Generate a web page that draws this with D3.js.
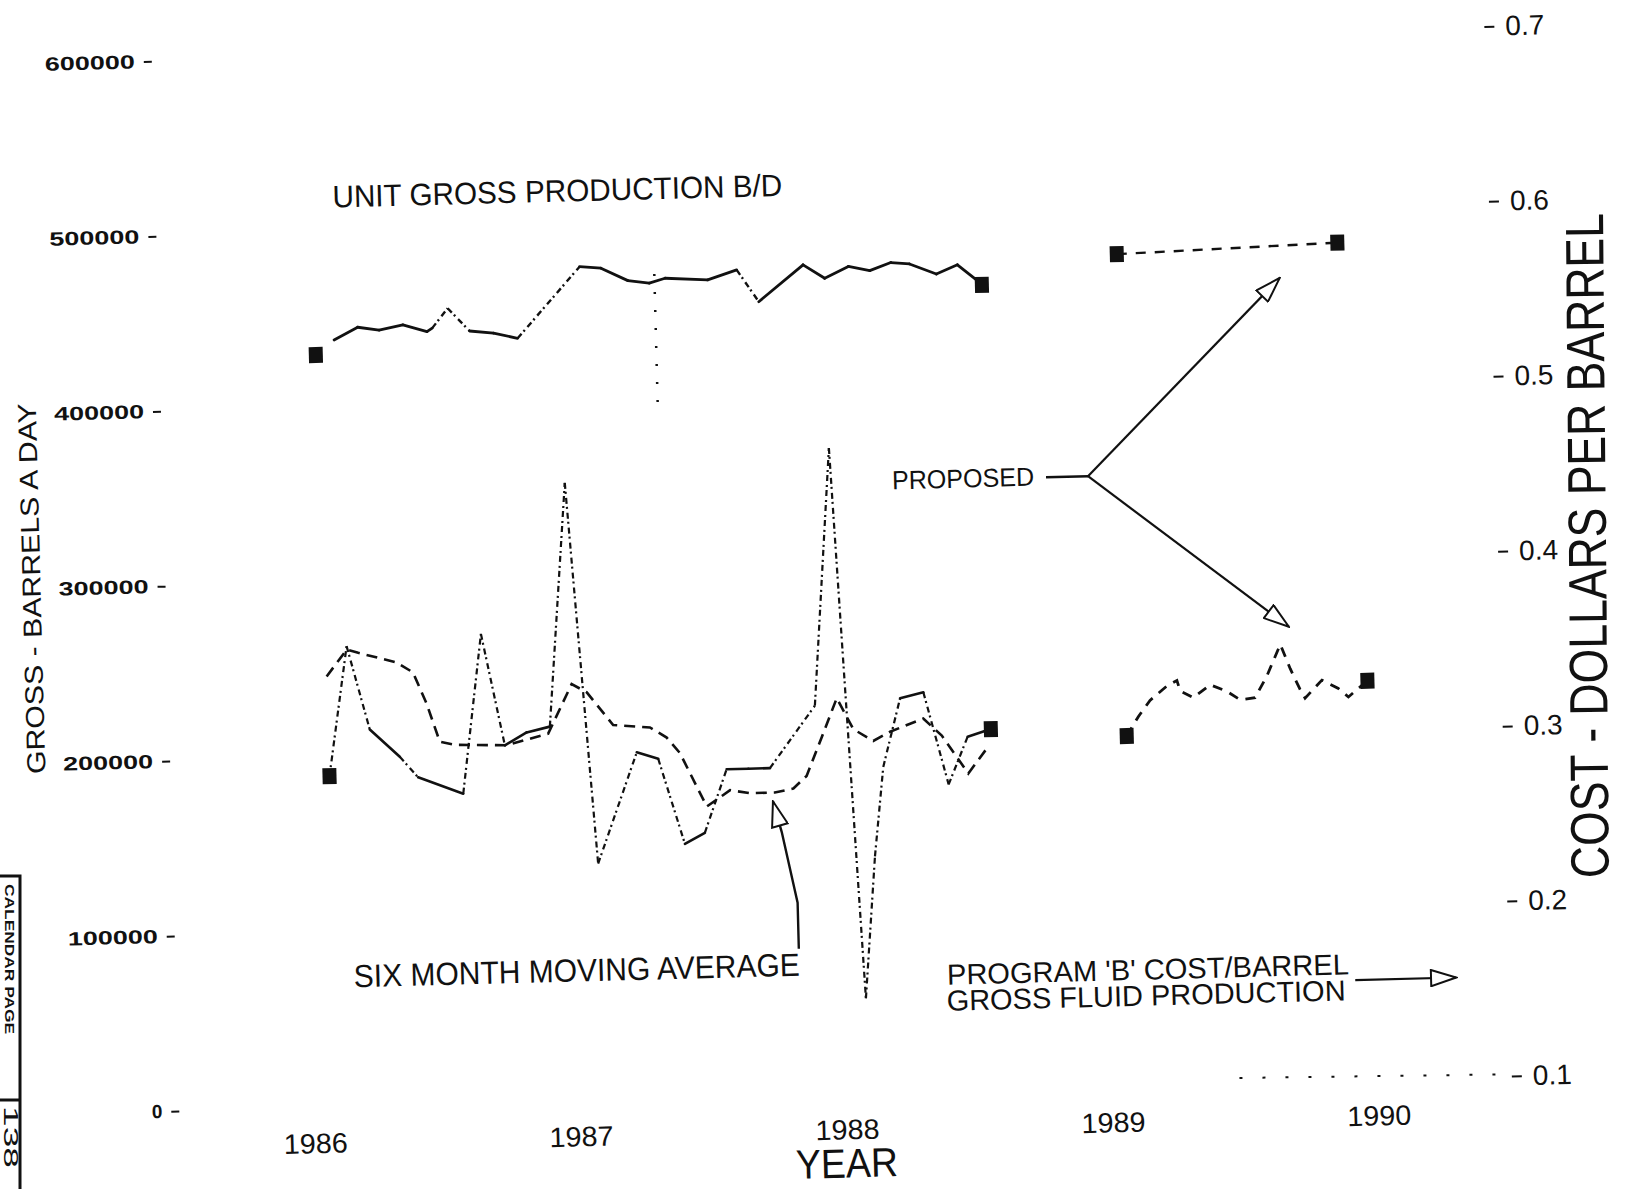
<!DOCTYPE html>
<html>
<head>
<meta charset="utf-8">
<script src="https://cdn.jsdelivr.net/npm/d3@7"></script>
<style>
  body { margin: 0; background: #fff; }
  svg text { font-family: "Liberation Sans", Arial, sans-serif; fill: #111; }
</style>
</head>
<body>
<svg id="chart" width="1640" height="1189"></svg>
<script>
// ---- tick values
var yearTicks  = [1986, 1987, 1988, 1989, 1990];
var grossTicks = [0, 100000, 200000, 300000, 400000, 500000, 600000];
var costTicks  = [0.1, 0.2, 0.3, 0.4, 0.5, 0.6, 0.7];

// ---- unit gross production, barrels a day (left axis)
var unitGrossYears  = [1986.15, 1986.24, 1986.32, 1986.41, 1986.50, 1986.52, 1986.58, 1986.66, 1986.75, 1986.84,
                       1987.08, 1987.16, 1987.26, 1987.34, 1987.40, 1987.56, 1987.67, 1987.75, 1987.92, 1988.00,
                       1988.09, 1988.17, 1988.25, 1988.32, 1988.42, 1988.50, 1988.57, 1988.59];
var unitGrossValues = [438100, 445000, 443100, 445700, 441500, 443400, 454500, 441200, 439600, 436300,
                       476300, 475100, 467600, 465900, 468400, 466800, 472100, 453600, 474000, 466000,
                       472400, 469700, 474000, 472900, 466800, 471700, 462800, 459900];
var proposedGrossYears  = [1989.10, 1989.93];
var proposedGrossValues = [475400, 478700];
var grossMarkerYears  = [1986.08, 1988.59, 1989.10, 1989.93];
var grossMarkerValues = [429800, 459900, 475400, 478700];

// ---- program 'B' cost per barrel, dollars (right axis)
var costYears  = [1986.09, 1986.167, 1986.246, 1986.356, 1986.423, 1986.591, 1986.673, 1986.752, 1986.835, 1986.923,
                  1987.003, 1987.091, 1987.247, 1987.327, 1987.419, 1987.495, 1987.583, 1987.665, 1987.746, 1987.921,
                  1987.999, 1988.084, 1988.132, 1988.172, 1988.242, 1988.330, 1988.416, 1988.492, 1988.58];
var costValues = [0.289, 0.363, 0.315, 0.299, 0.287, 0.277, 0.368, 0.304, 0.311, 0.314,
                  0.453, 0.235, 0.298, 0.294, 0.245, 0.251, 0.287, 0.287, 0.287, 0.322,
                  0.469, 0.154, 0.235, 0.286, 0.325, 0.328, 0.275, 0.302, 0.306];
// six month moving average
var avgYears  = [1986.089, 1986.167, 1986.210, 1986.353, 1986.414, 1986.462, 1986.508, 1986.564, 1986.759, 1986.916,
                 1987.009, 1987.065, 1987.161, 1987.299, 1987.361, 1987.409, 1987.505, 1987.594, 1987.668, 1987.762,
                 1987.832, 1987.883, 1987.944, 1988.004, 1988.063, 1988.137, 1988.201, 1988.327, 1988.395, 1988.491,
                 1988.563];
var avgValues = [0.346, 0.361, 0.359, 0.353, 0.347, 0.329, 0.307, 0.305, 0.304, 0.310,
                 0.338, 0.333, 0.314, 0.312, 0.306, 0.297, 0.266, 0.275, 0.273, 0.273,
                 0.275, 0.282, 0.304, 0.326, 0.308, 0.301, 0.306, 0.313, 0.303, 0.281,
                 0.295];
var proposedCostYears  = [1989.09, 1989.136, 1989.181, 1989.246, 1989.284, 1989.295, 1989.344, 1989.409, 1989.471, 1989.520,
                          1989.576, 1989.622, 1989.676, 1989.711, 1989.746, 1989.764, 1989.829, 1989.890, 1989.927, 1990.00];
var proposedCostValues = [0.300, 0.311, 0.320, 0.328, 0.331, 0.325, 0.321, 0.328, 0.324, 0.319,
                          0.320, 0.332, 0.350, 0.336, 0.324, 0.319, 0.329, 0.324, 0.319, 0.328];
var costMarkerYears  = [1986.09, 1988.58, 1989.09, 1990.00];
var costMarkerValues = [0.289, 0.306, 0.300, 0.328];

var svg = d3.select("#chart");

// open arrow head used by the call-outs
svg.append("defs").append("marker")
    .attr("id", "openHead")
    .attr("viewBox", "0 0 30 20")
    .attr("refX", 29).attr("refY", 10)
    .attr("markerWidth", 28).attr("markerHeight", 18)
    .attr("markerUnits", "userSpaceOnUse")
    .attr("orient", "auto")
  .append("path")
    .attr("d", "M1,1 L29,10 L1,19 Z")
    .attr("fill", "white")
    .attr("stroke", "#111")
    .attr("stroke-width", 2.2);

// the scanned page sits a little crooked
var page = svg.append("g").attr("transform", "rotate(-1.5,820,595)");

var x = d3.scaleLinear().domain([1986, 1990]).range([301, 1365]);
var yGross = d3.scaleLinear().domain([0, 600000]).range([1094, 44]);
var yCost = d3.scaleLinear().domain([0.1, 0.7]).range([1094, 44]);

//////////////////////////AXES//////////////////////////
var leftAxis = page.append("g")
    .attr("transform", "translate(166,0)")
    .call(d3.axisLeft(yGross).tickValues(grossTicks).tickSize(8).tickPadding(9).tickFormat(d3.format("d")));
leftAxis.select(".domain").remove();
leftAxis.selectAll("line").attr("stroke", "#111").attr("stroke-width", 2);
leftAxis.selectAll("text")
    .attr("font-size", 19)
    .attr("font-weight", "bold")
    .attr("font-family", "Liberation Sans, Arial, sans-serif")
    .each(function(d) {
        if (d !== 0) d3.select(this).attr("textLength", 90).attr("lengthAdjust", "spacingAndGlyphs");
    });

var rightAxis = page.append("g")
    .attr("transform", "translate(1499,0)")
    .call(d3.axisRight(yCost).tickValues(costTicks).tickSize(10).tickPadding(11).tickFormat(d3.format(".1f")));
rightAxis.select(".domain").remove();
rightAxis.selectAll("line").attr("stroke", "#111").attr("stroke-width", 2);
rightAxis.selectAll("text")
    .attr("font-size", 28)
    .attr("font-family", "Liberation Sans, Arial, sans-serif");

var yearAxis = page.append("g")
    .attr("transform", "translate(0,1100)")
    .call(d3.axisBottom(x).tickValues(yearTicks).tickSize(0).tickPadding(20).tickFormat(d3.format("d")));
yearAxis.select(".domain").remove();
yearAxis.selectAll("text")
    .attr("font-size", 28)
    .attr("font-family", "Liberation Sans, Arial, sans-serif")
    .attr("textLength", 64)
    .attr("lengthAdjust", "spacingAndGlyphs");

page.append("text")
    .text("GROSS - BARRELS A DAY")
    .attr("transform", "translate(41,568) rotate(-90)")
    .attr("text-anchor", "middle")
    .attr("font-size", 26)
    .attr("textLength", 371)
    .attr("lengthAdjust", "spacingAndGlyphs");

// this title was pasted on nearly square to the sheet edge
page.append("text")
    .text("COST - DOLLARS PER BARREL")
    .attr("transform", "translate(1607,566) rotate(-89)")
    .attr("text-anchor", "middle")
    .attr("font-size", 54)
    .attr("textLength", 665)
    .attr("lengthAdjust", "spacingAndGlyphs");

page.append("text")
    .text("YEAR")
    .attr("x", 832).attr("y", 1178)
    .attr("text-anchor", "middle")
    .attr("font-size", 41)
    .attr("textLength", 102)
    .attr("lengthAdjust", "spacingAndGlyphs");

//////////////////////////LINES//////////////////////////
// solid trace; the steep strokes broke up in the copy, so they go dash-dot
function drawSolid(years, values, yScale, width) {
    var pts = years.map(function(yr, i) { return [x(yr), yScale(values[i])]; });
    for (var i = 1; i < pts.length; i++) {
        var a = pts[i - 1], b = pts[i];
        var steep = Math.abs(b[1] - a[1]) > Math.abs(b[0] - a[0]);
        page.append("path")
            .attr("d", d3.line()([a, b]))
            .attr("fill", "none")
            .attr("stroke", "#111")
            .attr("stroke-width", steep ? width * 0.85 : width)
            .attr("stroke-linecap", steep ? "butt" : "round")
            .attr("stroke-dasharray", steep ? "6,3,2,4" : null);
    }
}

function drawDashed(years, values, yScale, width, dash) {
    var line = d3.line()
        .x(function(d) { return x(d[0]); })
        .y(function(d) { return yScale(d[1]); });
    page.append("path")
        .datum(years.map(function(yr, i) { return [yr, values[i]]; }))
        .attr("d", line)
        .attr("fill", "none")
        .attr("stroke", "#111")
        .attr("stroke-width", width)
        .attr("stroke-dasharray", dash);
}

function drawMarkers(years, values, yScale) {
    page.selectAll(null)
        .data(years)
        .enter()
        .append("rect")
        .attr("x", function(d) { return x(d) - 7; })
        .attr("y", function(d, i) { return yScale(values[i]) - 8; })
        .attr("width", 14)
        .attr("height", 16)
        .attr("fill", "#111");
}

drawSolid(unitGrossYears, unitGrossValues, yGross, 2.8);
drawDashed(proposedGrossYears, proposedGrossValues, yGross, 2.4, "10,9");
drawMarkers(grossMarkerYears, grossMarkerValues, yGross);

drawSolid(costYears, costValues, yCost, 2.6);
drawDashed(avgYears, avgValues, yCost, 2.6, "11,7");
drawDashed(proposedCostYears, proposedCostValues, yCost, 2.8, "10,8");
drawMarkers(costMarkerYears, costMarkerValues, yCost);

// faint marks left on the copy
page.append("line")
    .attr("x1", x(1987.36)).attr("x2", x(1987.36))
    .attr("y1", yGross(471000)).attr("y2", yGross(390000))
    .attr("stroke", "#111").attr("stroke-width", 2.5)
    .attr("stroke-dasharray", "2,16");
page.append("line")
    .attr("x1", x(1989.48)).attr("x2", 1499)
    .attr("y1", yCost(0.103)).attr("y2", yCost(0.101))
    .attr("stroke", "#111").attr("stroke-width", 2)
    .attr("stroke-dasharray", "3,20");

//////////////////////////NOTES//////////////////////////
page.append("text")
    .text("UNIT GROSS PRODUCTION B/D")
    .attr("x", 343).attr("y", 195)
    .attr("font-size", 31)
    .attr("textLength", 450)
    .attr("lengthAdjust", "spacingAndGlyphs");

// PROPOSED call-out
var vx = x(1988.97), vy = yGross(349000);
page.append("text")
    .text("PROPOSED")
    .attr("x", vx - 54).attr("y", vy + 8)
    .attr("text-anchor", "end")
    .attr("font-size", 26)
    .attr("textLength", 142)
    .attr("lengthAdjust", "spacingAndGlyphs");
page.append("line")
    .attr("x1", vx - 42).attr("y1", vy).attr("x2", vx).attr("y2", vy)
    .attr("stroke", "#111").attr("stroke-width", 2.5);
page.append("line")
    .attr("x1", vx).attr("y1", vy)
    .attr("x2", x(1989.71)).attr("y2", yGross(459400))
    .attr("stroke", "#111").attr("stroke-width", 2.2)
    .attr("marker-end", "url(#openHead)");
page.append("line")
    .attr("x1", vx).attr("y1", vy)
    .attr("x2", x(1989.71)).attr("y2", yCost(0.360))
    .attr("stroke", "#111").attr("stroke-width", 2.2)
    .attr("marker-end", "url(#openHead)");

// six month moving average call-out
page.append("text")
    .text("SIX MONTH MOVING AVERAGE")
    .attr("x", 344).attr("y", 975)
    .attr("font-size", 32)
    .attr("textLength", 446)
    .attr("lengthAdjust", "spacingAndGlyphs");
var tx = x(1987.754), ty = yCost(0.268);
page.append("path")
    .attr("d", d3.line()([[tx + 22, ty + 148], [tx + 22, ty + 102], [tx + 8, ty + 31], [tx, ty]]))
    .attr("fill", "none")
    .attr("stroke", "#111").attr("stroke-width", 2.4)
    .attr("marker-end", "url(#openHead)");

// program 'B' legend
page.append("text")
    .text("PROGRAM 'B' COST/BARREL")
    .attr("x", 937).attr("y", 988)
    .attr("font-size", 29)
    .attr("textLength", 402)
    .attr("lengthAdjust", "spacingAndGlyphs");
page.append("text")
    .text("GROSS FLUID PRODUCTION")
    .attr("x", 936).attr("y", 1014)
    .attr("font-size", 29)
    .attr("textLength", 399)
    .attr("lengthAdjust", "spacingAndGlyphs");
page.append("line")
    .attr("x1", 1345).attr("y1", 994).attr("x2", 1446).attr("y2", 994)
    .attr("stroke", "#111").attr("stroke-width", 2.2)
    .attr("marker-end", "url(#openHead)");

// calendar page stamp at the edge of the sheet
var stamp = svg.append("g");
stamp.append("rect")
    .attr("x", -10).attr("y", 876).attr("width", 30).attr("height", 330)
    .attr("fill", "none").attr("stroke", "#111").attr("stroke-width", 3);
stamp.append("line")
    .attr("x1", 0).attr("x2", 20).attr("y1", 1100).attr("y2", 1100)
    .attr("stroke", "#111").attr("stroke-width", 3);
stamp.append("text")
    .text("CALENDAR PAGE")
    .attr("transform", "translate(5,884) rotate(90)")
    .attr("font-size", 13)
    .attr("font-weight", "bold")
    .attr("textLength", 150)
    .attr("lengthAdjust", "spacingAndGlyphs");
stamp.append("text")
    .text("138")
    .attr("transform", "translate(4,1106) rotate(90)")
    .attr("font-size", 20)
    .attr("textLength", 62)
    .attr("lengthAdjust", "spacingAndGlyphs");
</script>
</body>
</html>
